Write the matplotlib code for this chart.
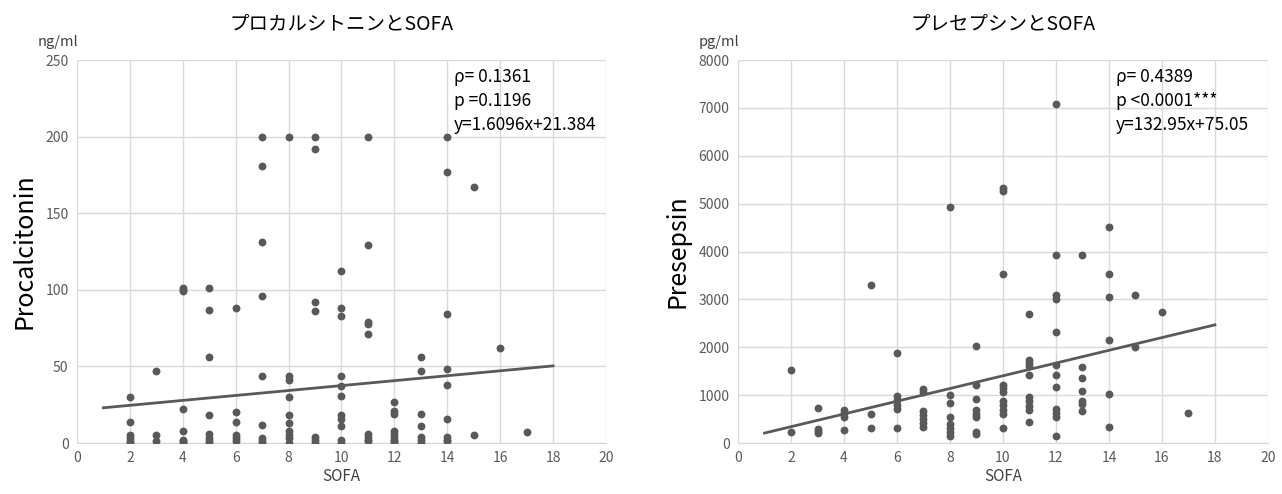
import matplotlib
matplotlib.use("Agg")
import matplotlib.pyplot as plt
import numpy as np

plt.rcParams["font.family"] = ["Noto Sans CJK JP", "DejaVu Sans"]

# Procalcitonin (ng/ml) by SOFA score
pct_sofa = (
    [2] * 6 + [3] * 3 + [4] * 8 + [5] * 8 + [6] * 6 + [7] * 9 + [8] * 10
    + [9] * 7 + [10] * 11 + [11] * 9 + [12] * 9 + [13] * 7 + [14] * 9
    + [15] * 2 + [16] + [17]
)
pct_values = [
    30, 14, 5, 3, 1, 0,
    47, 5, 1,
    101, 100, 99, 22, 8, 2, 1, 0,
    101, 87, 56, 18, 6, 3, 1, 0,
    88, 20, 14, 5, 3, 1,
    200, 181, 131, 96, 44, 12, 3, 1, 0,
    200, 44, 41, 30, 18, 13, 8, 5, 3, 0,
    200, 192, 92, 86, 4, 2, 0,
    112, 88, 83, 44, 37, 31, 18, 16, 11, 2, 0,
    200, 129, 79, 78, 71, 6, 4, 2, 1,
    27, 21, 19, 8, 6, 4, 2, 1, 0,
    56, 47, 19, 11, 4, 2, 0,
    200, 177, 84, 48, 38, 16, 4, 2, 1,
    167, 5,
    62,
    7,
]

# Presepsin (pg/ml) by SOFA score
pse_sofa = (
    [2] * 2 + [3] * 4 + [4] * 4 + [5] * 3 + [6] * 6 + [7] * 7 + [8] * 8
    + [9] * 8 + [10] * 11 + [11] * 10 + [12] * 12 + [13] * 7 + [14] * 6
    + [15] * 2 + [16] + [17]
)
pse_values = [
    1520, 240,
    740, 300, 250, 200,
    690, 620, 540, 280,
    3310, 600, 320,
    1880, 980, 900, 790, 720, 320,
    1120, 1070, 670, 590, 500, 410, 330,
    4940, 1010, 840, 540, 400, 320, 240, 150,
    2020, 1220, 910, 690, 600, 540, 220, 190,
    5320, 5260, 3520, 1220, 1150, 1070, 880, 790, 700, 600, 310,
    2690, 1740, 1680, 1600, 1420, 960, 880, 770, 680, 430,
    7090, 3920, 3090, 3000, 2310, 1640, 1430, 1170, 720, 630, 540, 140,
    3920, 1590, 1350, 1090, 880, 810, 670,
    4520, 3520, 3040, 2150, 1030, 340,
    3090, 2010,
    2740,
    630,
]

pct_fit = (1.6096, 21.384)
pse_fit = (132.95, 75.05)
fit_range = [1, 18]

GREY = "#595959"
GRID = "#d9d9d9"

fig = plt.figure(figsize=(12.82, 4.94), dpi=100)
ax1 = fig.add_axes([0.060, 0.1032, 0.4127, 0.7753])
ax2 = fig.add_axes([0.5757, 0.1032, 0.4133, 0.7753])


def draw(ax, x, y, fit, ymax, ystep, title, ylabel, unit, stats):
    ax.scatter(x, y, s=32, color=GREY, zorder=3, linewidths=0)
    xs = np.array(fit_range)
    ax.plot(xs, fit[0] * xs + fit[1], color=GREY, linewidth=2, zorder=2)

    ax.set_xlim(0, 20)
    ax.set_ylim(0, ymax)
    ax.set_xticks(range(0, 21, 2))
    ax.set_yticks(np.arange(0, ymax + 1, ystep))
    ax.grid(True, color=GRID, linewidth=1)
    ax.set_axisbelow(True)
    for side in ["top", "right", "left"]:
        ax.spines[side].set_visible(False)
    ax.spines["bottom"].set_color(GRID)
    ax.tick_params(length=0, colors=GREY, labelsize=10, pad=6)

    ax.set_title(title, fontsize=14, pad=22)
    ax.set_xlabel("SOFA", fontsize=11, labelpad=2, color="#404040")
    ax.set_ylabel(ylabel, fontsize=18, labelpad=6)
    ax.text(-0.075, 1.03, unit, transform=ax.transAxes, fontsize=10.5,
            color="#404040", ha="left", va="bottom")
    ax.text(0.713, 0.98, stats, transform=ax.transAxes, fontsize=12.5,
            ha="left", va="top", linespacing=1.45)


draw(ax1, pct_sofa, pct_values, pct_fit, 250, 50,
     "プロカルシトニンとSOFA", "Procalcitonin", "ng/ml",
     "ρ= 0.1361\np =0.1196\ny=1.6096x+21.384")
draw(ax2, pse_sofa, pse_values, pse_fit, 8000, 1000,
     "プレセプシンとSOFA", "Presepsin", "pg/ml",
     "ρ= 0.4389\np <0.0001***\ny=132.95x+75.05")

fig.savefig("out.png", dpi=100)
